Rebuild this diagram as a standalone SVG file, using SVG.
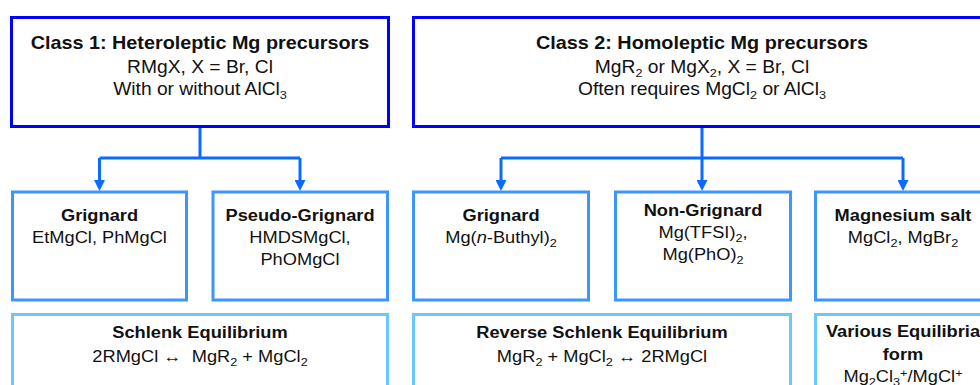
<svg xmlns="http://www.w3.org/2000/svg" width="980" height="385" viewBox="0 0 980 385">
<style>
text{font-family:"Liberation Sans",Arial,sans-serif;fill:#111;text-anchor:middle}
.t{font-size:18px;font-weight:bold}
.tl{font-size:17.5px}
.h{font-size:16.6px;font-weight:bold}
.r{font-size:16.6px}
.sb{font-size:11.5px;baseline-shift:-4px}
.sp{font-size:11.5px;baseline-shift:5px}
.top{fill:#fff;stroke:#0000ff;stroke-width:3}
.mid{fill:#fff;stroke:#3c96ff;stroke-width:3}
.bot{fill:#fff;stroke:#6ac8ff;stroke-width:3}
.c{fill:none;stroke:#0a6cff;stroke-width:3}
</style>
<defs>
<marker id="ah" viewBox="0 0 11 11" refX="0" refY="5.5" markerWidth="11" markerHeight="11" markerUnits="userSpaceOnUse" orient="auto">
<path d="M0,0 L11,5.5 L0,11 z" fill="#0a6cff"/>
</marker>
</defs>
<rect width="980" height="385" fill="#fff"/>

<g id="connectors">
<path class="c" d="M200,128 V158"/>
<path class="c" d="M99.5,158 H300"/>
<path class="c" d="M99.5,158 V180" marker-end="url(#ah)"/>
<path class="c" d="M300,158 V180" marker-end="url(#ah)"/>
<path class="c" d="M702,128 V180" marker-end="url(#ah)"/>
<path class="c" d="M501,158 H903"/>
<path class="c" d="M501,158 V180" marker-end="url(#ah)"/>
<path class="c" d="M903,158 V180" marker-end="url(#ah)"/>
</g>

<g id="class1">
<rect class="top" x="11.5" y="17.5" width="377" height="109"/>
<g transform="translate(200,0) scale(1.1,1)">
<text class="t" x="0" y="49">Class 1: Heteroleptic Mg precursors</text>
<text class="tl" x="0" y="73">RMgX, X = Br, Cl</text>
<text class="tl" x="0" y="95">With or without AlCl<tspan class="sb">3</tspan></text>
</g>
</g>

<g id="class2">
<rect class="top" x="413.5" y="17.5" width="577" height="109"/>
<g transform="translate(702,0) scale(1.1,1)">
<text class="t" x="0" y="49">Class 2: Homoleptic Mg precursors</text>
<text class="tl" x="0" y="73">MgR<tspan class="sb">2</tspan> or MgX<tspan class="sb">2</tspan>, X = Br, Cl</text>
<text class="tl" x="0" y="95">Often requires MgCl<tspan class="sb">2</tspan> or AlCl<tspan class="sb">3</tspan></text>
</g>
</g>

<g id="grignard1">
<rect class="mid" x="12.5" y="192" width="174" height="108"/>
<g transform="translate(99.5,0) scale(1.1,1)">
<text class="h" x="0" y="221">Grignard</text>
<text class="r" x="0" y="243">EtMgCl, PhMgCl</text>
</g>
</g>

<g id="pseudo">
<rect class="mid" x="213" y="192" width="174.5" height="108"/>
<g transform="translate(300,0) scale(1.1,1)">
<text class="h" x="0" y="221">Pseudo-Grignard</text>
<text class="r" x="0" y="243">HMDSMgCl,</text>
<text class="r" x="0" y="265">PhOMgCl</text>
</g>
</g>

<g id="grignard2">
<rect class="mid" x="413.5" y="192" width="175" height="108"/>
<g transform="translate(501,0) scale(1.1,1)">
<text class="h" x="0" y="221">Grignard</text>
<text class="r" x="0" y="243">Mg(<tspan font-style="italic">n</tspan>-Buthyl)<tspan class="sb">2</tspan></text>
</g>
</g>

<g id="nongrignard">
<rect class="mid" x="615.5" y="192" width="175" height="108"/>
<g transform="translate(703,0) scale(1.1,1)">
<text class="h" x="0" y="216">Non-Grignard</text>
<text class="r" x="0" y="238">Mg(TFSI)<tspan class="sb">2</tspan>,</text>
<text class="r" x="0" y="260">Mg(PhO)<tspan class="sb">2</tspan></text>
</g>
</g>

<g id="salt">
<rect class="mid" x="815.5" y="192" width="175" height="108"/>
<g transform="translate(903,0) scale(1.1,1)">
<text class="h" x="0" y="221">Magnesium salt</text>
<text class="r" x="0" y="243">MgCl<tspan class="sb">2</tspan>, MgBr<tspan class="sb">2</tspan></text>
</g>
</g>

<g id="schlenk">
<rect class="bot" x="12.5" y="314.5" width="375" height="110"/>
<g transform="translate(200,0) scale(1.1,1)">
<text class="h" x="0" y="338">Schlenk Equilibrium</text>
<text class="r" x="0" y="362" xml:space="preserve">2RMgCl ↔  MgR<tspan class="sb">2</tspan> + MgCl<tspan class="sb">2</tspan></text>
</g>
</g>

<g id="reverse">
<rect class="bot" x="413.5" y="314.5" width="377" height="110"/>
<g transform="translate(602,0) scale(1.1,1)">
<text class="h" x="0" y="338">Reverse Schlenk Equilibrium</text>
<text class="r" x="0" y="362">MgR<tspan class="sb">2</tspan> + MgCl<tspan class="sb">2</tspan> ↔ 2RMgCl</text>
</g>
</g>

<g id="various">
<rect class="bot" x="815.5" y="314.5" width="175" height="110"/>
<g transform="translate(903,0) scale(1.1,1)">
<text class="h" x="0" y="337">Various Equilibria</text>
<text class="h" x="0" y="360">form</text>
<text class="r" x="0" y="382">Mg<tspan class="sb">2</tspan>Cl<tspan class="sb">3</tspan><tspan class="sp">+</tspan>/MgCl<tspan class="sp">+</tspan></text>
</g>
</g>
</svg>
